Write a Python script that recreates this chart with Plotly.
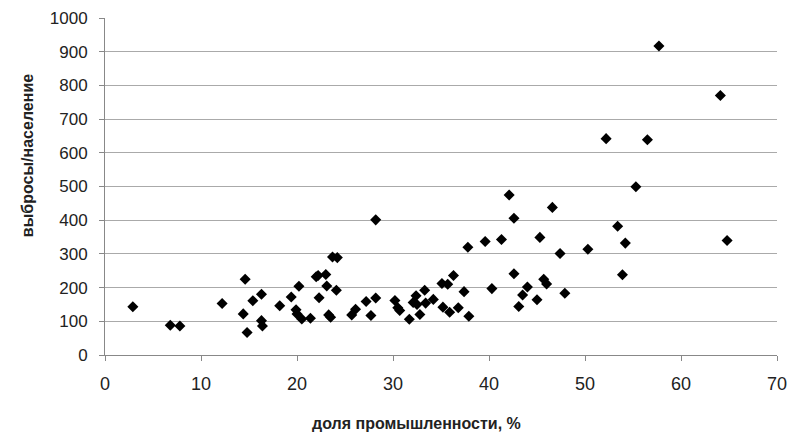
import plotly.graph_objects as go

industry_share = [
    2.9, 6.8, 7.8, 12.2, 14.6, 14.4, 14.8, 15.4, 16.3, 16.3, 16.4, 18.2, 19.4, 20.2,
    19.9, 20.0, 20.5, 21.4, 22.0, 22.2, 22.3, 23.0, 23.1, 23.3, 23.5, 23.7, 24.2, 24.1,
    28.2, 25.7, 26.1, 27.2, 27.7, 28.2, 30.2, 30.5, 30.7, 31.7, 32.1, 32.4, 32.5, 32.8,
    33.3, 33.4, 34.2, 35.1, 35.7, 35.2, 35.9, 36.3, 36.8, 37.4, 37.8, 37.9, 39.6, 40.3,
    41.3, 42.1, 42.6, 42.6, 43.1, 43.5, 44.0, 45.0, 45.3, 45.7, 46.0, 46.6, 47.4, 47.9,
    50.3, 52.2, 53.4, 53.9, 54.2, 55.3, 56.5, 57.7, 64.1, 64.8,
]
emissions_per_capita = [
    143, 88, 86, 153, 225, 122, 67, 161, 180, 102, 86, 146, 172, 204,
    134, 122, 107, 109, 232, 236, 170, 239, 205, 119, 112, 291, 289, 192,
    401, 119, 136, 159, 117, 169, 162, 140, 132, 106, 156, 176, 150, 120,
    192, 154, 165, 212, 210, 142, 127, 236, 140, 188, 320, 115, 337, 197,
    343, 475, 406, 241, 144, 178, 202, 164, 349, 225, 211, 438, 301, 183,
    314, 642, 382, 238, 332, 499, 639, 917, 770, 340,
]
x_ticks = [0, 10, 20, 30, 40, 50, 60, 70]
y_ticks = [0, 100, 200, 300, 400, 500, 600, 700, 800, 900, 1000]
x_title = "доля промышленности, %"
y_title = "выбросы/население"

fig = go.Figure()
fig.add_trace(go.Scatter(
    x=industry_share, y=emissions_per_capita, mode="markers",
    marker=dict(symbol="diamond", size=8.5, color="black"),
    showlegend=False, cliponaxis=False,
))

font = "Liberation Sans, Arial, sans-serif"
fig.update_layout(
    width=797, height=444,
    margin=dict(l=97, r=28, t=10, b=97),
    paper_bgcolor="white", plot_bgcolor="white",
    font=dict(family=font, size=18, color="#222222"),
)
fig.update_xaxes(
    range=[0, 70], tickvals=x_ticks, showgrid=False, zeroline=False,
    showline=True, linecolor="#888888", linewidth=1,
    ticks="outside", ticklen=5, tickcolor="#888888",
    ticklabelstandoff=7, automargin=False, ticklabeloverflow="allow",
)
fig.update_yaxes(
    range=[0, 1000], tickvals=y_ticks, showgrid=True, gridcolor="#aaaaaa", gridwidth=1,
    zeroline=False, showline=True, linecolor="#888888", linewidth=1,
    ticks="outside", ticklen=5, tickcolor="#888888", tickfont=dict(size=17),
    ticklabelstandoff=8, automargin=False, ticklabeloverflow="allow",
)
fig.add_annotation(
    text="<b>" + y_title + "</b>", textangle=-90, showarrow=False,
    xref="paper", x=0, xshift=-78, xanchor="center",
    yref="paper", y=0.59, yanchor="middle",
    font=dict(size=16, color="#222222"),
)
fig.add_annotation(
    text="<b>" + x_title + "</b>", showarrow=False,
    xref="paper", x=0.464, xanchor="center",
    yref="paper", y=0, yshift=-68, yanchor="middle",
    font=dict(size=16, color="#222222"),
)

fig.write_html("out.html")
